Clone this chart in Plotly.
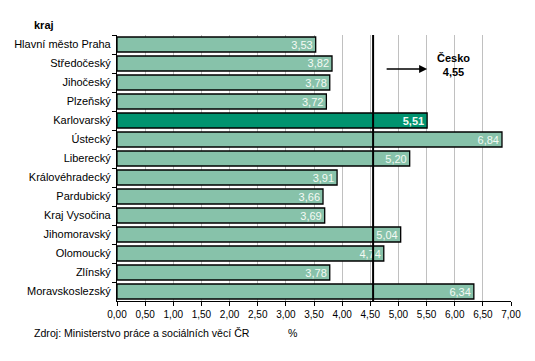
import plotly.graph_objects as go

regions = ["Hlavní město Praha", "Středočeský", "Jihočeský", "Plzeňský", "Karlovarský",
           "Ústecký", "Liberecký", "Královéhradecký", "Pardubický", "Kraj Vysočina",
           "Jihomoravský", "Olomoucký", "Zlínský", "Moravskoslezský"]
values = [3.53, 3.82, 3.78, 3.72, 5.51, 6.84, 5.20, 3.91, 3.66, 3.69, 5.04, 4.74, 3.78, 6.34]
highlight = "Karlovarský"
czech_value = 4.55
x_ticks = [i * 0.5 for i in range(15)]

FONT = "Liberation Sans, Arial, sans-serif"
light = "#87C2AA"
dark = "#00936F"

colors = [dark if r == highlight else light for r in regions]
texts = [("<b>%s</b>" if r == highlight else "%s") % f"{v:.2f}".replace(".", ",")
         for r, v in zip(regions, values)]

fig = go.Figure(go.Bar(
    y=regions, x=values, orientation="h",
    marker=dict(color=colors, line=dict(color="black", width=1.3)),
    text=texts, textposition="inside", insidetextanchor="end", constraintext="none",
    textfont=dict(family=FONT, size=11, color="#F4FAF4"),
    cliponaxis=False, hoverinfo="skip",
))

fig.add_shape(type="line", xref="x", yref="paper", x0=czech_value, x1=czech_value,
              y0=0, y1=1, line=dict(color="black", width=2), layer="above")

fig.add_annotation(xref="x", yref="paper", x=5.51, y=0.872, ax=-42, ay=0,
                   axref="pixel", ayref="pixel", showarrow=True, arrowhead=2,
                   arrowsize=1, arrowwidth=1.6, arrowcolor="black", text="")
fig.add_annotation(xref="x", yref="paper", x=5.98, y=0.943,
                   text="<b>Česko<br>" + f"{czech_value:.2f}".replace(".", ",") + "</b>",
                   showarrow=False, font=dict(family=FONT, size=11, color="black"),
                   align="center")
fig.add_annotation(xref="paper", yref="paper", x=-0.216, y=1.038, xanchor="left", yanchor="middle",
                   text="<b>kraj</b>", showarrow=False,
                   font=dict(family=FONT, size=11, color="black"))
fig.add_annotation(xref="paper", yref="paper", x=-0.216, y=-0.122, xanchor="left", yanchor="middle",
                   text="Zdroj: Ministerstvo práce a sociálních věcí ČR", showarrow=False,
                   font=dict(family=FONT, size=10.6, color="black"))
fig.add_annotation(xref="x", yref="paper", x=3.13, y=-0.122, xanchor="center", yanchor="middle",
                   text="%", showarrow=False,
                   font=dict(family=FONT, size=10.6, color="black"))

# page has an 8px body margin, so the figure is shifted by 8px
fig.update_layout(
    width=527, height=353,
    margin=dict(l=109, r=24, t=27, b=60, autoexpand=False),
    paper_bgcolor="white", plot_bgcolor="white",
    separators=", ",
    bargap=0.21,
    showlegend=False,
    font=dict(family=FONT, size=11, color="black"),
    xaxis=dict(range=[0, 7], tickvals=x_ticks, tickformat=".2f", automargin=False,
               showgrid=True, gridcolor="#C0C0C0", gridwidth=1,
               zeroline=False, showline=True, linecolor="black", linewidth=1,
               ticks="outside", ticklen=4, tickcolor="black",
               tickfont=dict(family=FONT, size=10, color="black")),
    yaxis=dict(autorange="reversed", showline=True, linecolor="black", linewidth=1,
               ticks="outside", ticklen=4, tickcolor="black", tickson="boundaries",
               showgrid=False, ticksuffix=" ", automargin=False,
               tickfont=dict(family=FONT, size=11, color="black")),
)

fig.write_html("out.html")
